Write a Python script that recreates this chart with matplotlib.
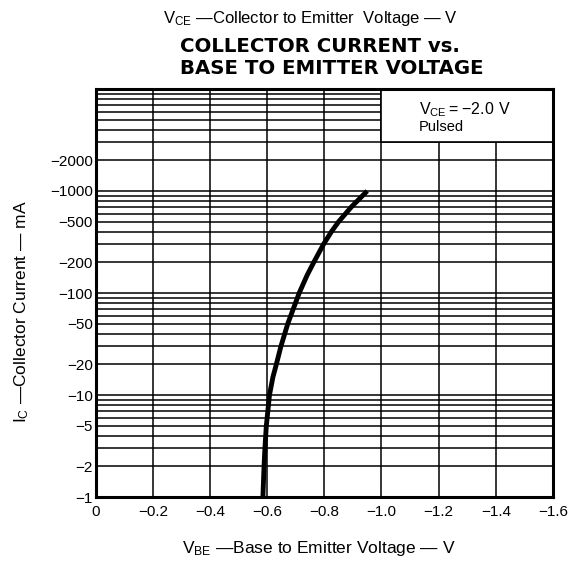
import numpy as np
import matplotlib.pyplot as plt
from matplotlib.patches import Rectangle
from matplotlib.ticker import FixedLocator, NullFormatter

plt.rcParams['font.family'] = ['Liberation Sans', 'DejaVu Sans']
plt.rcParams['mathtext.fontset'] = 'custom'
plt.rcParams['mathtext.rm'] = 'Liberation Sans'

# curve
ic_ma = [1, 2, 3, 5, 10, 15, 20, 30, 50, 100, 150, 200, 300, 400, 500, 700, 850, 1000]
vbe_v = [-0.585, -0.589, -0.592, -0.597, -0.608, -0.620, -0.632, -0.648, -0.672, -0.712,
         -0.740, -0.763, -0.797, -0.825, -0.850, -0.895, -0.925, -0.95]

x_ticks = [0, -0.2, -0.4, -0.6, -0.8, -1.0, -1.2, -1.4, -1.6]
x_labels = ['0', '\u22120.2', '\u22120.4', '\u22120.6', '\u22120.8', '\u22121.0', '\u22121.2', '\u22121.4', '\u22121.6']
y_ticks = [1, 2, 5, 10, 20, 50, 100, 200, 500, 1000, 2000]
y_labels = ['\u22121', '\u22122', '\u22125', '\u221210', '\u221220', '\u221250', '\u2212100', '\u2212200', '\u2212500', '\u22121000', '\u22122000']

fig = plt.figure(figsize=(5.7, 5.63), dpi=100)
ax = fig.add_axes([0.168, 0.117, 0.802, 0.725])

ax.set_yscale('log')
ax.set_xlim(0, -1.6)
ax.set_ylim(1, 10000)

ax.set_xticks(x_ticks)
ax.set_xticklabels(x_labels)
ax.set_yticks(y_ticks)
ax.set_yticklabels(y_labels)
minor = [m * 10 ** d for d in range(0, 4) for m in range(1, 10)]
ax.yaxis.set_minor_locator(FixedLocator(minor))
ax.yaxis.set_minor_formatter(NullFormatter())
ax.tick_params(which='both', length=0)
ax.tick_params(axis='y', pad=2, labelsize=11)
ax.tick_params(axis='x', pad=6, labelsize=11)

ax.set_axisbelow(True)
ax.grid(which='both', axis='y', color='black', linewidth=1.1)
ax.grid(which='major', axis='x', color='black', linewidth=1.1)
for s in ax.spines.values():
    s.set_linewidth(2.2)

# note box in the upper right corner
box = Rectangle((-1.0, 3000), -0.6, 7000, facecolor='white', edgecolor='black',
                linewidth=1.2, zorder=2)
ax.add_patch(box)
ax.text(-1.13, 6300, r'$\mathregular{V_{CE}}$$\mathregular{=}$$\mathregular{-2.0\ V}$',
        fontsize=11.5, ha='left', va='center', zorder=3)
ax.text(-1.13, 4200, 'Pulsed', fontsize=10.5, ha='left', va='center', zorder=3)

ax.plot(vbe_v, ic_ma, color='black', linewidth=3.5, solid_capstyle='butt',
        solid_joinstyle='round', zorder=4)

dash = '\u2014'
fig.text(0.545, 0.968, r'$\mathregular{V_{CE}}$ ' + dash + 'Collector to Emitter  Voltage ' + dash + ' V',
         ha='center', va='center', fontsize=12)
fig.text(0.316, 0.898, 'COLLECTOR CURRENT vs.\nBASE TO EMITTER VOLTAGE', ha='left', va='center',
         fontsize=14.2, fontweight='bold', linespacing=1.15, family='DejaVu Sans')
fig.text(0.56, 0.026, r'$\mathregular{V_{BE}}$ ' + dash + 'Base to Emitter Voltage ' + dash + ' V',
         ha='center', va='center', fontsize=12.5)
fig.text(0.038, 0.447, r'$\mathregular{I_{C}}$ ' + dash + 'Collector Current ' + dash + ' mA',
         ha='center', va='center', fontsize=12.5, rotation=90)

fig.savefig('out.png', dpi=100, facecolor='white')
